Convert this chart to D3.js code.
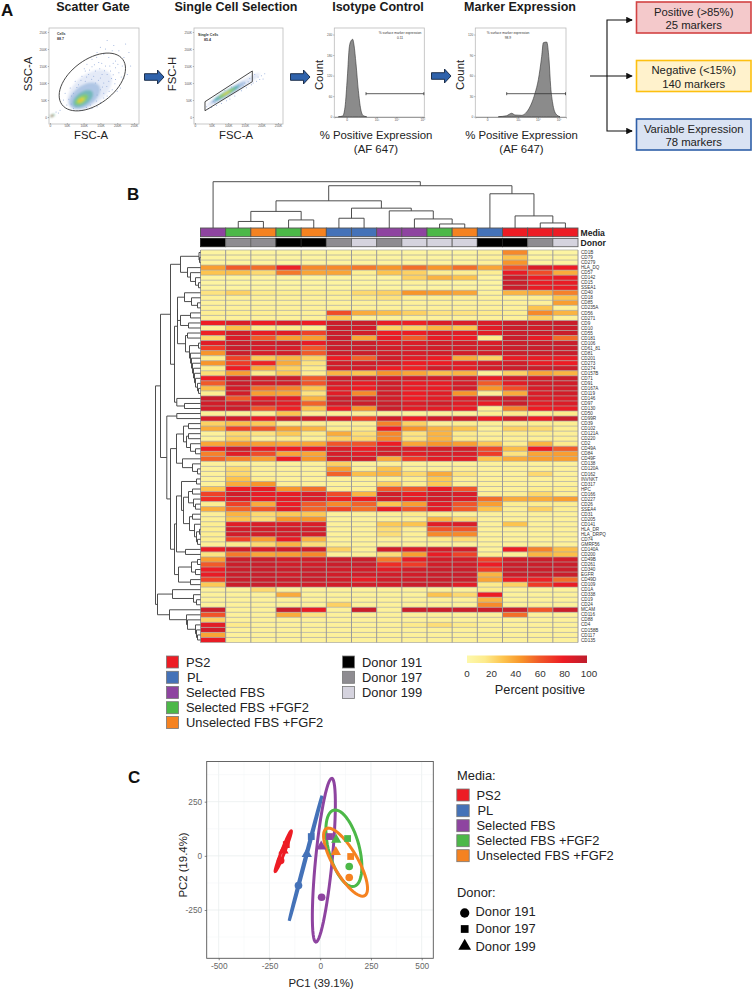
<!DOCTYPE html>
<html><head><meta charset="utf-8">
<script src="https://cdn.jsdelivr.net/npm/d3@7"></script>
<style>
html,body{margin:0;padding:0;background:#fff}
svg{display:block;font-family:"Liberation Sans",Arial,sans-serif}
</style></head><body><div id="c"></div>
<script>
// ---------- DATA ----------
const markers=["CD1B","CD79","CD279","HLA_DQ","CD57","CD142","CD15","SSEA1","CD40","CD18","CD85","CD235A","CD56","CD271","CD9","CD10","CD55","CD181","CD106","CD61_81","CD81","CD201","CD273","CD274","CD157B","CD71","CD91","CD167A","CD119","CD146","CD97","CD130","CD50","CD99R","CD39","CD102","CD121A","CD220","CD2","CD49A","CD84","CD49F","CD138","CD120A","CD162","INVNKT","CD317","HPC","CD166","CD227","CD26","SSEA4","CD31","CD205","CD141","HLA_DR","HLA_DRPQ","CD74","GMRF56","CD140A","CD200","CD49B","CD261","CD340","EGFR","CD49D","CD109","CD1A","CD338","CD19","CD24","MCAM","CD116","CD88","CD4","CD158B","CD117","CD135"];
const mediaNames=["PS2","PL","Selected FBS","Selected FBS +FGF2","Unselected FBS +FGF2"];
const mediaColors=["#ed1c24","#4472b8","#8e44a0","#4cb848","#f58220"];
const donorNames=["Donor 191","Donor 197","Donor 199"];
const donorColors=["#000000","#8e8c91","#d5d3de"];
const colMedia=[2,3,4,3,4,1,1,2,2,3,4,1,0,0,0];
const colDonor=[0,1,1,0,0,1,2,1,2,2,2,0,0,1,2];
const heat=[
[5,5,5,5,5,5,5,5,5,5,5,8,48,5,5],
[5,5,5,5,5,5,5,5,5,5,5,8,30,5,5],
[5,5,5,5,5,5,5,5,5,5,5,8,45,5,5],
[42,60,55,78,48,48,52,45,55,45,55,40,62,88,80],
[30,32,22,52,40,40,12,30,25,12,12,12,82,65,38],
[5,5,5,5,5,5,5,5,25,35,30,5,95,80,82],
[5,5,5,5,5,5,5,5,8,5,5,5,95,82,82],
[5,5,5,5,5,5,5,5,5,5,5,5,95,82,82],
[18,25,15,12,12,12,22,25,45,42,40,8,35,38,50],
[8,8,8,8,8,8,15,18,10,10,10,8,8,12,30],
[8,8,8,8,8,8,8,8,8,8,8,8,8,8,42],
[8,8,8,8,8,8,8,8,8,8,8,8,8,30,8],
[12,12,12,10,10,65,38,32,25,18,18,15,12,48,35],
[8,8,8,8,8,28,8,8,8,8,8,8,8,25,8],
[80,88,80,88,80,95,95,82,78,88,88,88,95,95,95],
[8,32,15,15,12,95,92,25,25,35,30,85,95,92,95],
[78,92,82,85,68,95,92,80,80,88,85,85,95,95,95],
[22,88,60,42,42,95,40,82,60,82,80,15,95,82,55],
[85,95,92,95,82,95,95,88,88,92,92,88,95,95,95],
[70,95,90,90,62,95,95,92,90,92,92,92,95,95,95],
[45,95,90,92,60,95,95,92,90,92,92,92,95,95,95],
[12,68,28,35,25,80,58,92,85,80,38,25,82,82,82],
[45,70,78,38,18,92,92,92,80,80,85,90,92,82,80],
[12,80,38,25,15,92,92,80,78,92,85,92,95,95,95],
[20,42,15,28,12,35,30,45,40,32,35,10,25,40,35],
[80,95,92,95,60,95,95,92,92,92,92,82,92,92,95],
[60,95,92,92,62,90,82,92,82,82,90,60,85,92,92],
[32,92,55,50,30,85,80,92,82,82,92,45,65,90,92],
[12,92,42,40,18,85,48,92,80,85,45,10,38,88,92],
[95,60,85,85,35,95,92,92,80,85,88,95,95,88,88],
[92,92,92,85,58,95,95,95,88,92,85,82,95,85,88],
[92,95,62,78,30,80,45,95,85,85,82,12,50,80,82],
[10,10,10,30,10,10,10,8,8,8,8,12,15,12,15],
[90,92,82,95,92,90,68,92,80,92,92,80,92,80,95],
[25,32,28,10,12,10,10,50,25,10,12,10,10,12,12],
[38,68,62,42,35,15,15,80,45,35,30,10,25,22,12],
[8,22,18,28,15,38,20,48,18,35,15,10,12,12,10],
[8,25,8,15,10,25,22,48,18,35,15,10,10,10,10],
[40,45,42,40,40,62,62,80,40,45,42,28,12,35,15],
[80,95,82,80,82,88,80,92,88,92,92,65,32,80,60],
[50,85,65,40,40,90,85,92,85,88,88,70,18,40,42],
[58,50,42,80,45,92,92,38,70,85,85,30,38,42,42],
[8,10,8,8,8,25,8,8,8,8,8,8,8,8,8],
[8,22,10,8,8,42,10,30,10,10,10,8,8,8,8],
[8,22,8,8,8,58,32,35,22,38,18,8,8,22,8],
[8,30,12,8,8,8,8,8,12,28,10,8,8,8,8],
[8,38,45,10,8,8,8,25,12,28,10,8,8,8,8],
[30,80,82,45,55,10,10,60,60,82,62,8,8,12,12],
[68,92,82,82,88,65,35,92,82,92,88,10,10,22,10],
[75,88,82,85,88,78,80,92,85,92,88,55,38,38,42],
[12,68,38,80,60,48,58,30,42,85,62,42,12,12,12],
[38,58,62,85,58,68,55,82,62,85,60,30,10,25,12],
[10,35,22,28,28,8,8,10,15,12,8,8,8,8,8],
[10,30,20,45,45,8,8,8,10,35,22,8,8,8,8],
[12,85,88,88,88,8,8,28,30,85,88,8,30,8,8],
[12,92,92,92,92,8,8,20,10,62,62,8,8,8,8],
[12,92,92,92,92,8,8,20,10,48,48,8,8,8,8],
[12,68,42,82,35,8,8,8,8,15,20,8,8,8,8],
[10,15,22,35,20,8,8,8,8,8,8,8,8,8,8],
[82,92,88,92,92,25,10,92,88,92,92,8,80,50,32],
[18,52,40,42,48,10,10,20,42,82,68,12,10,35,32],
[42,95,95,92,92,95,95,52,82,92,92,68,92,95,92],
[60,95,95,92,92,95,95,75,70,92,92,80,95,95,95],
[80,95,95,95,95,92,92,85,92,95,95,70,95,95,95],
[82,95,95,92,95,92,92,92,92,95,95,35,95,95,95],
[68,95,95,95,95,92,82,92,92,95,95,40,80,78,55],
[28,95,95,92,92,92,92,92,95,95,85,15,25,70,82],
[8,8,22,8,8,8,8,8,8,8,8,15,8,8,8],
[8,8,8,38,8,8,8,8,8,30,22,80,8,8,8],
[8,8,8,8,8,8,8,8,8,8,8,35,8,8,8],
[8,8,8,8,8,25,8,8,8,8,8,48,8,8,8],
[95,8,8,95,82,8,95,8,95,95,95,95,95,62,95],
[62,8,8,38,18,8,8,8,8,8,8,8,55,8,8],
[25,8,8,8,8,8,8,8,8,8,8,8,8,8,8],
[85,15,8,8,8,8,8,8,15,20,15,8,8,8,8],
[92,8,8,8,8,8,8,8,8,8,8,8,8,8,8],
[40,8,8,8,8,8,8,8,8,8,8,8,8,8,8],
[82,8,8,8,8,8,8,8,8,8,8,8,8,8,8]];
const colTree=[46,0,[42,[27,[16.5,[6.5,1,2],[8,3,4]],[19.7,[9.7,5,6],[17,7,[9,8,[4,9,10]]]]],[34,11,[12,12,[5,13,14]]]]];
const rowTree=[45,
 [40,
  [30,
   [20,[1.5,0,[1,1,2]],[13,3,[10,4,[5,5,[2,6,7]]]]],
   [26,
    [23,
     [23,[16,8,[9,9,[3,10,11]]],[20,[10,12,13],[12,14,15]]],
     [15,[13,16,17],[11,[2,18,19],[10,20,[9,21,[8,22,[7,23,[6,24,[5,25,[3,26,[2,27,28]]]]]]]]]]],
    [23.7,29,[16,30,31]]]],
  [33.7,
   [23.7,32,33],
   [30,
    [24,
     [17,[12,34,35],[14,[12,36,37],[10,38,[5,39,40]]]],
     [18,41,[8,42,[3,43,44]]]],
    [26,
     [24,
      [19,[4,45,46],[17,[12,[8,47,48],[7,49,[5,50,51]]],[11,[8,52,53],[6,54,[4,[1,55,56],[3,57,58]]]]]],
      [15,59,60]],
     [22,[9,[3,61,62],[5,63,64]],[10,65,66]]]]]],
 [43,
  [28,67,[7,68,[4,69,70]]],
  [31,71,[14,72,[13,73,[5,74,[4,75,[3,76,77]]]]]]]];
const colorStops=[0,15,30,45,60,80,100];
const colorRange=["#fdf8ac","#fdeb8c","#fdc44e","#f8952a","#f15a29","#ed1c24","#be1e2d"];
const barTicks=[0,20,40,60,80,100];

// Panel A
const scatter1Ellipses=[
[1180,800,600,480,-280,340,"#bccbea",.4],[1030,620,420,310,-190,240,"#7ba3d4",.5],[980,540,280,200,-110,150,"#4fb0a0",.6],[940,510,180,125,-65,90,"#8ccf5a",.8],[925,495,100,62,-36,50,"#e8d840",.85],[915,485,40,24,-14,20,"#f0a030",.7],[70,40,70,40,-20,30,"#5fb090",.8],[60,35,30,20,-8,14,"#e0402a",1]];
const scatter2Ellipses=[
[1150,800,800,480,-60,90,"#bccbea",.45],[1000,720,520,310,-40,70,"#7ba3d4",.6],[950,700,380,220,-30,50,"#40b0a0",.8],[950,700,250,145,-22,38,"#9cd050",.9],[950,700,110,65,-12,22,"#e8d840",.95]];
const scatter1Dots=[[1900,2100],[2050,1950],[2200,1750],[2350,1900],[1700,2250],[1500,2050],[1850,1950],[2150,1500],[2300,1250],[2200,1150],[2050,1300],[1950,1650],[1750,1750],[1600,1850],[1400,1900],[1250,1700],[1100,1550],[1450,1600],[1650,1500],[1800,1350],[1950,1100],[1750,1050],[1550,1250],[1350,1350],[1150,1250],[950,1200],[750,1050],[600,850],[450,700],[400,500],[500,350],[700,250],[950,200],[1250,250],[1500,420],[1700,620],[1850,800],[1500,800],[1350,1000],[1600,1000],[1250,1480],[1050,1350],[850,950],[700,700],[1400,650],[1200,350],[300,200],[250,120],[180,150],[2400,1500],[2250,2150],[1650,2000],[1950,1450],[2100,850],[1500,1150],[1300,1200],[1050,1050],[1700,1250],[1600,700],[1400,300],[1020,1420],[1180,1380],[1320,1540],[1480,1420],[1620,1360],[1780,1500],[1880,1240],[1930,980],[1830,1130],[1690,900],[1560,880],[1440,1080],[1240,1110],[1090,1180],[920,1080],[800,870],[640,620],[560,520],[630,380],[780,330],[1080,280],[1380,470],[1600,560],[1760,760],[1540,1580],[1390,1760],[2020,1550],[2120,1180],[1880,1580],[2000,760]];
const scatter2Dots=[[1800,1250],[1900,1180],[2000,1210],[2100,1270],[1950,1100],[1750,1000],[1650,1130],[1850,1050],[2050,1120],[1700,950],[1550,860],[1450,920],[1600,1040],[1500,1000],[1300,940],[1400,770],[1200,620],[1050,530],[950,480],[800,400],[650,340],[500,280],[400,240],[600,420],[750,540],[900,780],[1100,880],[700,590],[550,460],[350,300]];
const gate2=[[301,450],[1726,1353],[1726,1038],[301,185]];
const fscTicks=[0,500,1000,1500,2000,2500];
const fscLabels=["0","50K","100K","150K","200K","250K"];
const hist3Ch=[4.5,9.3,11.9,14.5,16.7,18.5,20.4,21.9,24.1,26.7,29.3,32.2,36];
const hist3Cnt=[0,2,28,116,204,221,226,209,155,77,23,3,0];
const hist4Ch=[25.4,34.6,40.1,43.8,51.2,56.7,62.2,65.8,69.5,73.2,75,78.7,81.3,83.1,85.3,88.9,93.4];
const hist4Cnt=[0,1.5,5,2.5,2,7,20,34,54,88,108,109,83,44,20,4,0];
const outcomes=[["Positive (>85%)","25 markers","#f4c9cb","#d24343"],["Negative (<15%)","140 markers","#fff2cc","#fdc010"],["Variable Expression","78 markers","#dae3f3","#2f5fa8"]];

// Panel C
const pcaTicksX=[-500,-250,0,250,500];
const pcaTicksY=[-250,0,250];
const pcaEllipses=[
{m:0,c:[-182,21.5],u:[39.4,94],v:[7.6,-2.8]},
{m:1,c:[-72,-11],u:[80.5,288],v:[3.2,-0.8]},
{m:2,c:[18,-20],u:[39.4,378],v:[40.8,-3.7]},
{m:3,c:[116.6,35],u:[-42.7,177],v:[77.7,0]},
{m:4,c:[124.8,-29],u:[-83.7,157],v:[68.8,0]}];
const pcaPoints=[
[0,0,-195,-22],[0,1,-167,52],[0,2,-181,25],
[1,0,-107,-137],[1,1,-44,89],[1,2,-66,9],
[2,0,7,-191],[2,1,46,89],[2,2,5,43],
[3,0,143,-49],[3,1,135,80],[3,2,79,74],
[4,0,143,-100],[4,1,150,-3],[4,2,77,18]];

// ---------- DRAW ----------
const svg=d3.select("#c").append("svg").attr("width",752).attr("height",991);
const F='"Liberation Sans",Arial,sans-serif';
function T(x,y,s,o={}){const t=svg.append("text").attr("x",x).attr("y",y).text(s)
 .attr("font-size",o.size||12).attr("fill",o.fill||"#222").attr("text-anchor",o.a||"start");
 if(o.b)t.attr("font-weight","bold"); if(o.rot)t.attr("transform",`rotate(-90 ${x} ${y})`); return t;}
const defs=svg.append("defs");
defs.append("filter").attr("id","blur").attr("x","-30%").attr("y","-30%").attr("width","160%").attr("height","160%")
 .append("feGaussianBlur").attr("stdDeviation",1.3);
defs.append("marker").attr("id","ah").attr("viewBox","0 0 8 8").attr("refX",7).attr("refY",4).attr("markerWidth",6).attr("markerHeight",6).attr("orient","auto")
 .append("path").attr("d","M0 0L8 4L0 8Z").attr("fill","#111");

T(1,16,"A",{size:17,b:1,fill:"#111"});T(127,200,"B",{size:17,b:1,fill:"#111"});T(128,783,"C",{size:17,b:1,fill:"#111"});

// Titles
[["Scatter Gate",93],["Single Cell Selection",236],["Isotype Control",378],["Marker Expression",520]].forEach(d=>T(d[1],10.5,d[0],{size:12.5,b:1,a:"middle",fill:"#1a1a1a"}));

function ellipsePath(sx,sy,c,u,v){
 const ang=d3.range(0,361,6).map(a=>a*Math.PI/180);
 return d3.line()(ang.map(t=>[sx(c[0]+Math.cos(t)*u[0]+Math.sin(t)*v[0]),sy(c[1]+Math.cos(t)*u[1]+Math.sin(t)*v[1])]))+"Z";
}
function axisStyle(g){g.selectAll("path").attr("stroke","#555").attr("stroke-width",.5);g.selectAll("line").attr("stroke","#555").attr("stroke-width",.4);
 g.selectAll("text").attr("font-size",3.2).attr("fill","#555").attr("font-family",F);}
function frame(x0,x1,y0,y1){svg.append("rect").attr("x",x0).attr("y",y0).attr("width",x1-x0).attr("height",y1-y0).attr("fill","none").attr("stroke","#bbb").attr("stroke-width",.8);}
function scatterPlot(x0,x1,xr,ellipses,dots,labels){
 frame(x0,x1,28,124);
 const sx=d3.scaleLinear([0,2500],xr),sy=d3.scaleLinear([0,2500],[117,32]);
 const b=svg.append("g").attr("filter","url(#blur)");
 ellipses.forEach(e=>b.append("path").attr("d",ellipsePath(sx,sy,[e[0],e[1]],[e[2],e[3]],[e[4],e[5]])).attr("fill",e[6]).attr("opacity",e[7]));
 const g=svg.append("g");
 dots.forEach(d=>g.append("circle").attr("cx",sx(d[0])).attr("cy",sy(d[1])).attr("r",.5).attr("fill","#8ea7d8"));
 axisStyle(svg.append("g").attr("transform",`translate(0,123)`).call(d3.axisBottom(sx).tickValues(fscTicks).tickFormat((d,i)=>labels[i]).tickSize(1.2).tickPadding(.8)).call(g=>g.select(".domain").remove()));
 axisStyle(svg.append("g").attr("transform",`translate(${x0},0)`).call(d3.axisLeft(sy).tickValues(fscTicks).tickFormat((d,i)=>labels[i]).tickSize(1.2).tickPadding(.8)).call(g=>g.select(".domain").remove()));
 return [sx,sy];
}
const [s1x,s1y]=scatterPlot(49,139,[50,134],scatter1Ellipses,scatter1Dots,fscLabels);
svg.append("path").attr("d",ellipsePath(s1x,s1y,[1260,1030],[905,665],[-395,530])).attr("fill","none").attr("stroke","#333").attr("stroke-width",.9);
T(57,34.5,"Cells",{size:3.6,b:1,fill:"#333"});T(57,39.5,"88.7",{size:3.6,b:1,fill:"#333"});
const [s2x,s2y]=scatterPlot(194,283,[195,278],scatter2Ellipses,scatter2Dots,fscLabels);
svg.append("path").attr("d",d3.line().x(d=>s2x(d[0])).y(d=>s2y(d[1])).curve(d3.curveLinearClosed)(gate2)).attr("fill","none").attr("stroke","#333").attr("stroke-width",.9);
T(198,35.5,"Single Cells",{size:3.6,b:1,fill:"#333"});T(204,41,"85.4",{size:3.6,b:1,fill:"#333"});

function histPlot(x0,x1,ymax,yt,ch,cnt,xticks,gx0,text,tx,num){
 frame(x0,x1,28,117);
 const sx=d3.scaleLinear([0,100],[x0,x1]),sy=d3.scaleLinear([0,ymax],[116.7,34.5]);
 const data=ch.map((c,i)=>[c,cnt[i]]);
 svg.append("path").attr("d",d3.area().x(d=>sx(d[0])).y0(sy(0)).y1(d=>sy(d[1])).curve(d3.curveMonotoneX)(data)).attr("fill","#8b8b8b").attr("stroke","#333").attr("stroke-width",.6);
 axisStyle(svg.append("g").attr("transform",`translate(${x0},0)`).call(d3.axisLeft(sy).tickValues(yt).tickSize(1.2).tickPadding(.8)).call(g=>g.select(".domain").remove()));
 axisStyle(svg.append("g").attr("transform",`translate(0,117)`).call(d3.axisBottom(sx).tickValues(xticks.map(d=>d[0])).tickFormat((d,i)=>xticks[i][1]).tickSize(1.4).tickPadding(.8)).call(g=>g.select(".domain").attr("stroke","#222").attr("stroke-width",.8)));
 const gy=93.7;
 svg.append("path").attr("d",`M${gx0} ${gy}H${x1-.5}M${gx0} ${gy-1.5}V${gy+1.5}M${x1-.5} ${gy-1.5}V${gy+1.5}`).attr("stroke","#333").attr("fill","none").attr("stroke-width",.8);
 T(tx,33.5,text,{size:3.3,fill:"#333",a:"middle"});T(tx,38.5,num,{size:3.3,fill:"#333",a:"middle"});
}
const logT=[[13.7,"0"],[47,"10³"],[69,"10⁴"],[98,"10⁵"]];
const logT4=[[13,"0"],[47,"10³"],[69,"10⁴"],[92,"10⁵"]];
histPlot(334.3,424.3,240,[0,60,120,180,240],hist3Ch,hist3Cnt,logT,366,"% surface marker expression",400,"0.11");
histPlot(475.3,566,120,[0,30,60,90,120],hist4Ch,hist4Cnt,logT4,506.7,"% surface marker expression",508,"98.9");

[["FSC-A",91,138.5],["FSC-A",236,138.5]].forEach(d=>T(d[1],d[2],d[0],{size:11.3,a:"middle"}));
[["SSC-A",32,74],["FSC-H",176,74],["Count",323,75],["Count",464,75]].forEach(d=>T(d[1],d[2],d[0],{size:11.3,a:"middle",rot:1}));
[[376],[521.5]].forEach(d=>{T(d[0],139,"% Positive Expression",{size:11.4,a:"middle"});T(d[0],153,"(AF 647)",{size:11.4,a:"middle"});});

// block arrows
[[144.5,77],[290.5,77],[431.5,76]].forEach(d=>{
 const [x,y]=d;
 svg.append("path").attr("d",`M${x} ${y-3.3}H${x+13}V${y-7}L${x+19.5} ${y}L${x+13} ${y+7}V${y+3.3}H${x}Z`).attr("fill","#2f62ab").attr("stroke","#10233f").attr("stroke-width",.9);
});
// bracket
svg.append("path").attr("d","M590 76H632").attr("stroke","#111").attr("stroke-width",1.1).attr("marker-end","url(#ah)");
svg.append("path").attr("d","M632 20H607V131H632").attr("stroke","#111").attr("fill","none").attr("stroke-width",1.1);
svg.append("path").attr("d","M626 20H632").attr("stroke","#111").attr("stroke-width",1.1).attr("marker-end","url(#ah)");
svg.append("path").attr("d","M626 131H632").attr("stroke","#111").attr("stroke-width",1.1).attr("marker-end","url(#ah)");
outcomes.forEach((o,i)=>{
 const y=[2,60.5,119][i];
 svg.append("rect").attr("x",636.5).attr("y",y).attr("width",114.5).attr("height",31).attr("fill",o[2]).attr("stroke",o[3]).attr("stroke-width",1.6);
 T(693.7,y+13.5,o[0],{size:11.3,a:"middle"});T(693.7,y+27,o[1],{size:11.3,a:"middle"});
});

// ---- B heatmap
const colX=d3.scaleBand().domain(d3.range(15)).range([200.5,578]);
const rowY=d3.scaleBand().domain(d3.range(markers.length)).range([250,642.5]);
const color=d3.scaleLinear().domain(colorStops).range(colorRange);
const h=svg.append("g");
heat.forEach((row,r)=>row.forEach((v,c)=>h.append("rect").attr("x",colX(c)).attr("y",rowY(r)).attr("width",colX.bandwidth()).attr("height",rowY.bandwidth()).attr("fill",color(v))));
rowY.domain().concat([markers.length]).forEach(r=>h.append("line").attr("x1",200.5).attr("x2",578).attr("y1",250+r*rowY.bandwidth()).attr("y2",250+r*rowY.bandwidth()).attr("stroke","#a8a8a0").attr("stroke-width",.7));
d3.range(16).forEach(c=>h.append("line").attr("y1",250).attr("y2",642.5).attr("x1",200.5+c*colX.bandwidth()).attr("x2",200.5+c*colX.bandwidth()).attr("stroke","#9a9a9a").attr("stroke-width",1));
markers.forEach((m,r)=>T(581,rowY(r)+rowY.bandwidth()/2+1.6,m,{size:4.6,fill:"#333"}));
colMedia.forEach((m,c)=>svg.append("rect").attr("x",colX(c)).attr("y",228).attr("width",colX.bandwidth()).attr("height",8.7).attr("fill",mediaColors[m]).attr("stroke","#555").attr("stroke-width",.9));
colDonor.forEach((m,c)=>svg.append("rect").attr("x",colX(c)).attr("y",238.5).attr("width",colX.bandwidth()).attr("height",8.2).attr("fill",donorColors[m]).attr("stroke",m==0?"#222":"#666").attr("stroke-width",.9));
T(580.5,235.5,"Media",{size:8.6,b:1,fill:"#222"});T(580.5,245.5,"Donor",{size:8.6,b:1,fill:"#222"});

// dendrograms
const colH=d3.scaleLinear([0,46],[228,181.7]);
const rowH=d3.scaleLinear([0,45],[200.5,155.5]);
function dendro(node,pos,dist,horizontal,g){
 if(typeof node==="number")return {p:pos(node),d:0};
 const a=dendro(node[1],pos,dist,horizontal,g),b=dendro(node[2],pos,dist,horizontal,g);
 const x=dist(node[0]),ya=dist(a.d),yb=dist(b.d);
 const path=horizontal?`M${a.p} ${ya}V${x}H${b.p}V${yb}`:`M${ya} ${a.p}H${x}V${b.p}H${yb}`;
 g.append("path").attr("d",path).attr("fill","none").attr("stroke","#444").attr("stroke-width",.95);
 return {p:(a.p+b.p)/2,d:node[0]};
}
dendro(colTree,c=>colX(c)+colX.bandwidth()/2,colH,true,svg.append("g"));
dendro(rowTree,r=>rowY(r)+rowY.bandwidth()/2,rowH,false,svg.append("g"));

// legends
mediaNames.forEach((n,i)=>{const y=[662,677.3,692.5,707.7,722.5][i];
 svg.append("rect").attr("x",166.5).attr("y",y-6).attr("width",12).attr("height",12).attr("fill",mediaColors[i]).attr("stroke","#777").attr("stroke-width",.8);
 T(i==1?187:186,y+4.5,n,{size:12.9});});
donorNames.forEach((n,i)=>{const y=[662,677.3,692.5][i];
 svg.append("rect").attr("x",342.5).attr("y",y-6).attr("width",12).attr("height",12).attr("fill",donorColors[i]).attr("stroke","#777").attr("stroke-width",.8);
 T(362,y+4.5,n,{size:12.9});});
const grad=defs.append("linearGradient").attr("id","cb");
colorStops.forEach((s,i)=>grad.append("stop").attr("offset",s+"%").attr("stop-color",colorRange[i]));
svg.append("rect").attr("x",467).attr("y",655.5).attr("width",120).attr("height",7.5).attr("fill","url(#cb)");
const barX=d3.scaleLinear([0,100],[467,589]);
barTicks.forEach(t=>T(barX(t),677,t,{size:9.8,a:"middle",fill:"#333"}));
T(540,694,"Percent positive",{size:12.7,a:"middle"});

// ---- C PCA
const px=d3.scaleLinear([-500,500],[218.7,421.7]),py=d3.scaleLinear([-250,250],[910,801.7]);
const pL=206.7,pR=433.3,pT=761.5,pB=958.3;
const grid=svg.append("g");
[-500,-375,-250,-125,0,125,250,375,500].forEach(v=>grid.append("line").attr("x1",px(v)).attr("x2",px(v)).attr("y1",pT).attr("y2",pB).attr("stroke",v%250==0?"#e9edee":"#f3f5f6").attr("stroke-width",v%250==0?.8:.5));
[-375,-250,-125,0,125,250,375].forEach(v=>grid.append("line").attr("y1",py(v)).attr("y2",py(v)).attr("x1",pL).attr("x2",pR).attr("stroke",v%250==0?"#e9edee":"#f3f5f6").attr("stroke-width",v%250==0?.8:.5));
svg.append("rect").attr("x",pL).attr("y",pT).attr("width",pR-pL).attr("height",pB-pT).attr("fill","none").attr("stroke","#555").attr("stroke-width",.9);
function pcaAxis(g){g.select(".domain").remove();g.selectAll("line").attr("stroke","#555").attr("stroke-width",.7);g.selectAll("text").attr("font-size",8.3).attr("fill","#666").attr("font-family",F);}
svg.append("g").attr("transform",`translate(0,${pB})`).call(d3.axisBottom(px).tickValues(pcaTicksX).tickFormat(d=>d).tickSize(2).tickPadding(3)).call(pcaAxis);
svg.append("g").attr("transform",`translate(${pL},0)`).call(d3.axisLeft(py).tickValues(pcaTicksY).tickFormat(d=>d).tickSize(2).tickPadding(2.5)).call(pcaAxis);
T(321,987,"PC1 (39.1%)",{size:11.4,a:"middle"});T(187,865,"PC2 (19.4%)",{size:11.4,a:"middle",rot:1});
pcaEllipses.forEach(e=>svg.append("path").attr("d",ellipsePath(px,py,e.c,e.u,e.v)).attr("fill","none").attr("stroke",mediaColors[e.m]).attr("stroke-width",3));
const symT=[d3.symbolCircle,d3.symbolSquare,d3.symbolTriangle];
pcaPoints.forEach(d=>svg.append("path").attr("transform",`translate(${px(d[2])},${py(d[3])})`).attr("d",d3.symbol(symT[d[1]],46)()).attr("fill",mediaColors[d[0]]));

T(457,780,"Media:",{size:12.9});
mediaNames.forEach((n,i)=>{const y=[795,810.7,825.7,840.7,855.7][i];
 svg.append("rect").attr("x",456.8).attr("y",y-6).attr("width",12.4).attr("height",12).attr("fill",mediaColors[i]).attr("stroke","#777").attr("stroke-width",.8);
 T(i==1?477.5:476.5,y+4.5,n,{size:12.9});});
T(457,896.7,"Donor:",{size:12.9});
donorNames.forEach((n,i)=>{const y=[913,929,946][i];
 svg.append("path").attr("transform",`translate(464.7,${y})`).attr("d",d3.symbol(symT[i],[68,60,70][i])()).attr("fill","#000");
 T(475.5,y+[3.3,4,4.5][i],n,{size:12.9});});
</script></body></html>
